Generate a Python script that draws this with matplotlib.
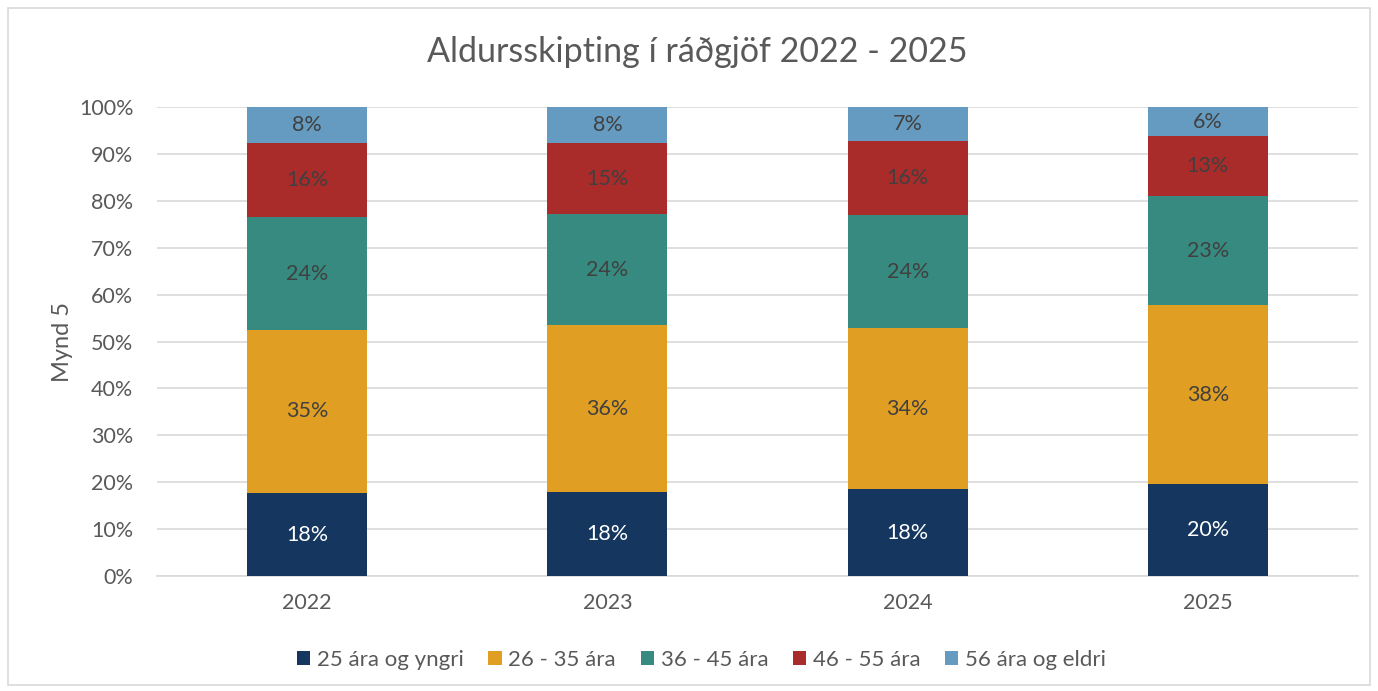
import matplotlib
matplotlib.use("Agg")
import matplotlib.pyplot as plt
from matplotlib.patches import Rectangle
import numpy as np

plt.rcParams['font.family'] = ['Lato', 'DejaVu Sans']

years = ["2022", "2023", "2024", "2025"]
series_names = ["25 ára og yngri", "26 - 35 ára", "36 - 45 ára", "46 - 55 ára", "56 ára og eldri"]
s_25 = [17.7, 17.9, 18.5, 19.6]
s_26_35 = [34.8, 35.6, 34.3, 38.2]
s_36_45 = [24.0, 23.6, 24.1, 23.2]
s_46_55 = [15.8, 15.2, 15.8, 12.8]
s_56 = [7.7, 7.7, 7.3, 6.2]
colors = ["#15375F", "#E09F22", "#368A7F", "#A92B2A", "#659BC0"]
label_colors = ["white", "#404040", "#404040", "#404040", "#404040"]

series = [s_25, s_26_35, s_36_45, s_46_55, s_56]

fig = plt.figure(figsize=(13.78, 6.91), dpi=100)
ax = fig.add_axes([0.114, 0.1664, 0.8715, 0.6786])

x = np.arange(len(years))
bottom = np.zeros(len(years))
for vals, c, name, lc in zip(series, colors, series_names, label_colors):
    vals = np.array(vals)
    ax.bar(x, vals, 0.4, bottom=bottom, color=c, label=name, zorder=3)
    for xi, b, v in zip(x, bottom, vals):
        ax.text(xi, b + v / 2, f"{round(v):.0f}%", ha="center", va="center",
                fontsize=15.5, color=lc, zorder=4)
    bottom += vals

ax.set_xlim(-0.5, 3.5)
ax.set_ylim(0, 100)
ax.set_yticks(np.arange(0, 101, 10))
ax.set_yticklabels([f"{t}%" for t in range(0, 101, 10)])
ax.set_xticks(x)
ax.set_xticklabels(years)
ax.tick_params(axis="both", length=0, labelsize=15.5, labelcolor="#595959")
ax.tick_params(axis="y", pad=17)
ax.tick_params(axis="x", pad=12)
ax.grid(axis="y", color="#D9D9D9", linewidth=1.2, zorder=0)
for s in ["top", "right", "left"]:
    ax.spines[s].set_visible(False)
ax.spines["bottom"].set_color("#D9D9D9")
ax.spines["bottom"].set_linewidth(1.2)
ax.set_ylabel("Mynd 5", fontsize=17, color="#595959", labelpad=4)

fig.text(0.506, 0.925, "Aldursskipting í ráðgjöf 2022 - 2025", ha="center", va="center",
         fontsize=24.5, color="#595959")

leg = fig.legend(loc="center", bbox_to_anchor=(0.509, 0.045), ncol=5, frameon=False,
                 fontsize=16, handlelength=0.6, handleheight=0.6, handletextpad=0.3,
                 columnspacing=1.1)
for t in leg.get_texts():
    t.set_color("#595959")

fig.patches.append(Rectangle((8 / 1378, 6 / 691), 1362 / 1378, 677 / 691,
                             transform=fig.transFigure, fill=False,
                             edgecolor="#D9D9D9", linewidth=1.2))

fig.savefig("out.png", dpi=100)
